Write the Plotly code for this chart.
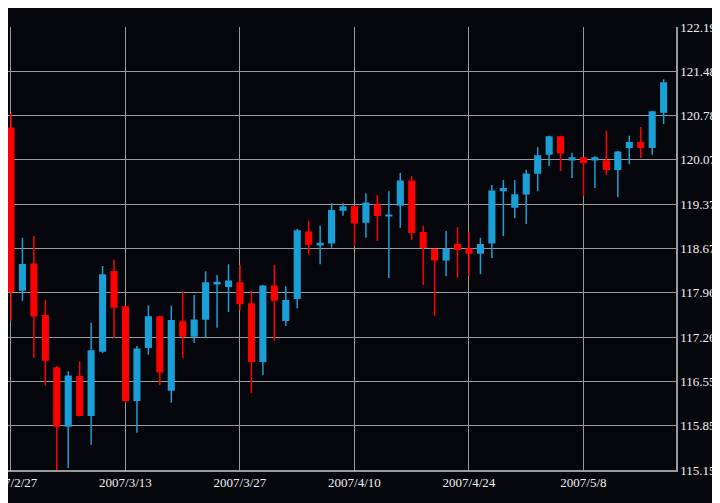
import pandas as pd
import plotly.graph_objects as go

# daily OHLC, trading days from 2007/2/27
dates = pd.bdate_range("2007-02-27", periods=58).strftime("%Y/%-m/%-d").tolist()

opens = [120.58, 118.01, 118.42, 117.60, 116.77, 115.85, 116.63, 116.02, 117.04, 118.30,
         117.74, 116.26, 117.10, 117.58, 116.42, 117.50, 117.28, 117.55, 118.11, 118.07,
         118.12, 117.79, 116.88, 118.07, 117.53, 117.88, 118.93, 118.73, 118.76, 119.28,
         119.33, 119.09, 119.36, 119.19, 119.36, 119.74, 118.92, 118.65, 118.49, 118.73,
         118.66, 118.60, 118.76, 119.59, 119.33, 119.54, 119.87, 120.17, 120.44, 120.08,
         120.11, 120.08, 120.06, 119.93, 120.28, 120.35, 120.28, 120.84]
highs = [120.82, 118.84, 118.87, 117.85, 116.80, 116.72, 116.88, 117.49, 118.39, 118.49,
         117.76, 117.12, 117.77, 117.60, 117.76, 117.99, 117.93, 118.31, 118.25, 118.42,
         118.41, 117.99, 118.09, 118.41, 118.07, 118.98, 119.11, 119.03, 119.39, 119.39,
         119.35, 119.55, 119.52, 119.58, 119.87, 119.82, 119.03, 118.67, 118.95, 119.01,
         118.93, 118.84, 119.68, 119.76, 119.76, 119.92, 120.28, 120.46, 120.46, 120.19,
         120.12, 120.14, 120.54, 120.22, 120.46, 120.60, 120.86, 121.36]
lows = [117.52, 117.84, 116.93, 116.49, 115.14, 115.18, 116.00, 115.55, 117.01, 117.25,
        116.22, 115.74, 116.98, 116.50, 116.22, 116.93, 117.17, 117.25, 117.41, 117.66,
        117.69, 116.37, 116.66, 117.20, 117.44, 117.72, 118.57, 118.42, 118.68, 119.19,
        118.71, 118.84, 118.79, 118.20, 119.00, 118.81, 118.09, 117.60, 118.23, 118.20,
        118.23, 118.26, 118.52, 118.87, 119.15, 119.06, 119.58, 119.98, 119.90, 119.79,
        119.50, 119.63, 119.84, 119.49, 120.01, 120.11, 120.16, 120.65]
closes = [117.99, 118.41, 117.60, 116.90, 115.85, 116.64, 116.02, 117.04, 118.25, 117.74,
          116.26, 117.07, 117.58, 116.71, 117.52, 117.28, 117.53, 118.12, 118.13, 118.15,
          117.80, 116.88, 118.07, 117.85, 117.84, 118.95, 118.74, 118.75, 119.27, 119.33,
          119.08, 119.39, 119.20, 119.20, 119.74, 118.93, 118.69, 118.49, 118.65, 118.66,
          118.60, 118.73, 119.58, 119.62, 119.52, 119.85, 120.14, 120.44, 120.19, 120.11,
          120.04, 120.11, 119.93, 120.20, 120.35, 120.28, 120.84, 121.30]

x_ticks = ["2007/2/27", "2007/3/13", "2007/3/27", "2007/4/10", "2007/4/24", "2007/5/8"]
y_ticks = [115.150, 115.854, 116.558, 117.262, 117.966, 118.670,
           119.374, 120.078, 120.782, 121.486, 122.190]

fig = go.Figure(go.Candlestick(
    x=dates, open=opens, high=highs, low=lows, close=closes,
    increasing=dict(line=dict(color="#1a9fd6", width=1.5), fillcolor="#1a9fd6"),
    decreasing=dict(line=dict(color="#ff0000", width=1.5), fillcolor="#ff0000"),
    whiskerwidth=0,
))

fig.update_layout(
    width=720, height=503,
    margin=dict(l=0, r=52, t=19, b=41),
    paper_bgcolor="#05050c", plot_bgcolor="#05050c",
    font=dict(family="Liberation Serif, Times New Roman, serif", size=13, color="#f0f0f0"),
    showlegend=False,
    xaxis=dict(
        type="category", range=[-0.26, 58.08], rangeslider=dict(visible=False),
        tickvals=x_ticks, ticktext=x_ticks, showgrid=True, automargin=False,
        gridcolor="#9a9a9a", gridwidth=1.2, showline=True, linecolor="#9a9a9a",
        linewidth=1.5, ticks="", tickangle=0,
    ),
    yaxis=dict(
        side="right", range=[115.15, 122.19], tickvals=y_ticks, automargin=False,
        ticktext=[f"{v:.3f}" for v in y_ticks], showgrid=True,
        gridcolor="#9a9a9a", gridwidth=1.2, showline=True, linecolor="#9a9a9a",
        linewidth=1.5, zeroline=False, ticks="",
    ),
)

fig.write_html("out.html")
